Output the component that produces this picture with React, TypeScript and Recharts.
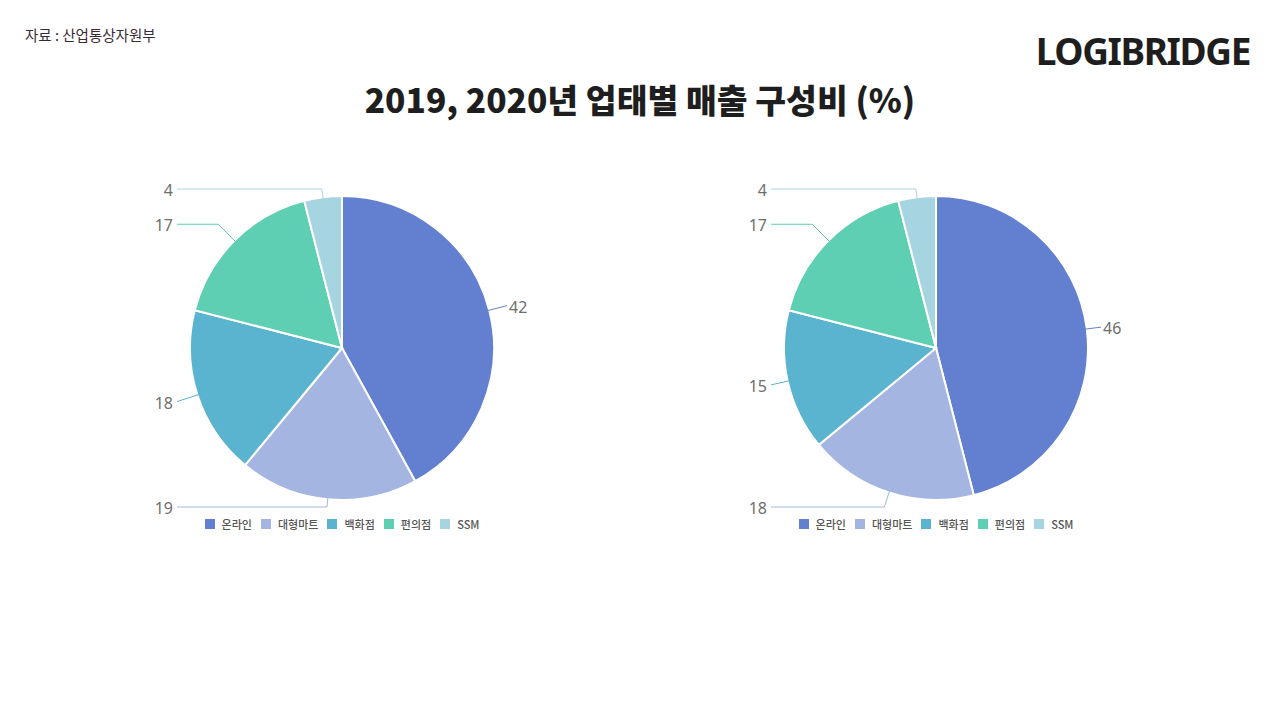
import React from 'react';
import { PieChart, Pie, Cell, Legend } from 'recharts';

const categories = ['온라인', '대형마트', '백화점', '편의점', 'SSM'];
const values2019 = [42, 19, 18, 17, 4];
const values2020 = [46, 18, 15, 17, 4];
const colors = ['#6280CF', '#A3B5E0', '#5AB4D0', '#5ECFB3', '#A6D4E1'];

const data2019 = categories.map((name, i) => ({ name, value: values2019[i] }));
const data2020 = categories.map((name, i) => ({ name, value: values2020[i] }));

const RAD = Math.PI / 180;

const renderLabel = (props: any) => {
  const { cx, cy, midAngle, outerRadius, value, index } = props;
  const dx = Math.cos(-midAngle * RAD);
  const dy = Math.sin(-midAngle * RAD);
  const r0 = outerRadius - 23;
  const L = outerRadius + 23;
  const sx = cx + r0 * dx;
  const sy = cy + r0 * dy;
  let ex = cx + L * dx;
  let ey = cy + L * dy;
  const yLim = outerRadius + 7;
  if (ey < cy - yLim) {
    ey = cy - yLim;
    ex = cx + (dx * (ey - cy)) / dy;
  } else if (ey > cy + yLim) {
    ey = cy + yLim;
    ex = cx + (dx * (ey - cy)) / dy;
  }
  const right = dx >= 0;
  const edge = outerRadius + 13;
  const edgeX = right ? cx + edge : cx - edge;
  if (Math.abs(ex - cx) > edge) {
    ex = edgeX;
    ey = cy + (dy * (edgeX - cx)) / dx;
  }
  const color = colors[index % colors.length];
  return (
    <g>
      <path
        d={`M${sx},${sy}L${ex},${ey}L${edgeX},${ey}`}
        stroke={color}
        strokeWidth={1}
        fill="none"
      />
      <text
        x={right ? edgeX + 2 : edgeX - 4}
        y={ey + 1}
        textAnchor={right ? 'start' : 'end'}
        dominantBaseline="central"
        fill="#6E6E6E"
        fontSize={16}
        fontFamily="'Noto Sans', 'Noto Sans CJK KR', sans-serif"
      >
        {value}
      </text>
    </g>
  );
};

const renderLegend = (props: any) => {
  const payload = [...(props.payload || [])].sort(
    (a: any, b: any) => categories.indexOf(a.value) - categories.indexOf(b.value)
  );
  return (
    <div
      style={{
        display: 'flex',
        justifyContent: 'center',
        alignItems: 'center',
        fontFamily: "'Noto Sans CJK KR', sans-serif",
        fontSize: 11,
        color: '#555',
      }}
    >
      {payload.map((entry: any, i: number) => (
        <div
          key={i}
          style={{ display: 'flex', alignItems: 'center', marginRight: i < payload.length - 1 ? 9 : 0 }}
        >
          <span
            style={{
              display: 'inline-block',
              width: 10,
              height: 10,
              background: colors[categories.indexOf(entry.value)],
              marginRight: 7,
            }}
          />
          <span style={{ fontWeight: 500 }}>{entry.value}</span>
        </div>
      ))}
    </div>
  );
};

const PieBlock = ({ data, left }: { data: any[]; left: number }) => (
  <div style={{ position: 'absolute', left, top: 0 }}>
    <PieChart width={600} height={600} margin={{ top: 0, right: 0, bottom: 0, left: 0 }}>
      <Pie
        data={data}
        dataKey="value"
        nameKey="name"
        cx={300}
        cy={348}
        outerRadius={152}
        startAngle={90}
        endAngle={-270}
        stroke="#ffffff"
        strokeWidth={2}
        label={renderLabel}
        labelLine={false}
        isAnimationActive={false}
      >
        {data.map((_, i) => (
          <Cell key={i} fill={colors[i]} />
        ))}
      </Pie>
      <Legend
        content={renderLegend}
        wrapperStyle={{ position: 'absolute', top: 516, left: 0, width: 600, height: 20 }}
      />
    </PieChart>
  </div>
);

export default function App() {
  return (
    <div
      style={{
        position: 'absolute',
        left: 0,
        top: 0,
        width: 1280,
        height: 720,
        background: '#ffffff',
        overflow: 'hidden',
      }}
    >
      <div
        style={{
          position: 'absolute',
          left: 25,
          top: 24,
          fontSize: 14.5,
          color: '#3a2a36',
          fontFamily: "'Noto Sans CJK KR', sans-serif",
          whiteSpace: 'nowrap',
        }}
      >
        자료 : 산업통상자원부
      </div>
      <div
        style={{
          position: 'absolute',
          right: 30,
          top: 26,
          fontSize: 37,
          fontWeight: 700,
          color: '#1e1e1e',
          fontFamily: "'Noto Sans', sans-serif",
          lineHeight: '50px',
          letterSpacing: -1.4,
        }}
      >
        LOGIBRIDGE
      </div>
      <div
        style={{
          position: 'absolute',
          left: 0,
          width: 1280,
          top: 76,
          textAlign: 'center',
          fontSize: 33.5,
          fontWeight: 900,
          color: '#1e1e1e',
          fontFamily: "'Noto Sans CJK KR', sans-serif",
          lineHeight: '46px',
        }}
      >
        2019, 2020년 업태별 매출 구성비 (%)
      </div>
      <PieBlock data={data2019} left={42} />
      <PieBlock data={data2020} left={636} />
    </div>
  );
}
